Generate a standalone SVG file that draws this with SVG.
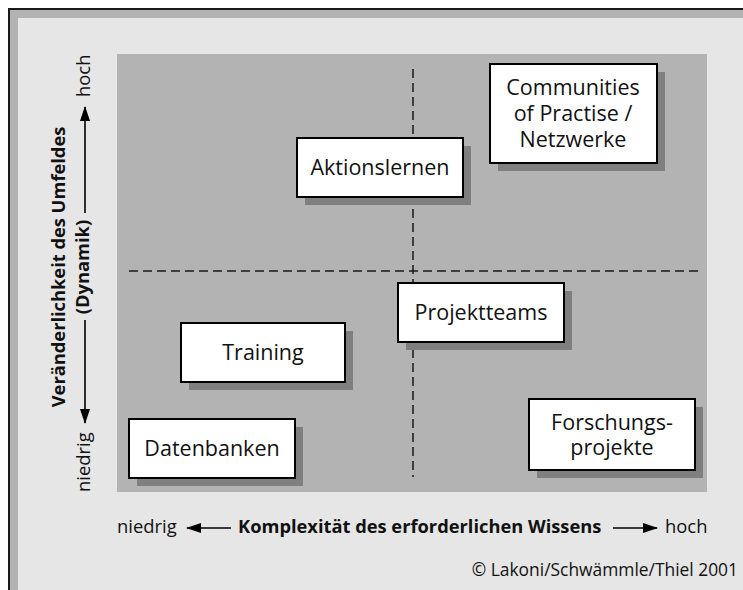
<svg xmlns="http://www.w3.org/2000/svg" width="743" height="590" viewBox="0 0 743 590">
  <defs>
    <style>
      .box { fill: #ffffff; stroke: #000000; stroke-width: 2; }
      .shadow { fill: #7f7f7f; }
      .label { font-family: "Open Sans", "Noto Sans", "Liberation Sans", sans-serif; font-size: 21.5px; fill: #111111; text-anchor: middle; }
      .axis { font-family: "Open Sans", "Noto Sans", "Liberation Sans", sans-serif; font-size: 18.4px; fill: #111111; }
      .axis-bold { font-family: "Open Sans", "Noto Sans", "Liberation Sans", sans-serif; font-size: 18.3px; font-weight: bold; fill: #111111; }
      .arrow { stroke: #000000; stroke-width: 1.6; fill: none; marker-end: url(#head); }
      .divider { stroke: #1a1a1a; stroke-width: 1.5; stroke-dasharray: 9 5; fill: none; }
      .copy { font-family: "Open Sans", "Noto Sans", "Liberation Sans", sans-serif; font-size: 17.4px; fill: #111111; text-anchor: end; }
    </style>
    <marker id="head" markerUnits="userSpaceOnUse" viewBox="0 0 15 10" refX="14" refY="5" markerWidth="15" markerHeight="10" orient="auto">
      <path d="M0,0 L15,5 L0,10 Z" fill="#000000"/>
    </marker>
  </defs>

  <!-- page and frame -->
  <rect x="0" y="0" width="743" height="590" fill="#ffffff"/>
  <rect x="9" y="9" width="760" height="600" fill="#b3b3b3" stroke="#1a1a1a" stroke-width="2"/>
  <rect x="18" y="18" width="760" height="600" fill="#e6e6e6"/>

  <!-- matrix area -->
  <rect id="matrix" x="117" y="54" width="590" height="438" fill="#b3b3b3"/>

  <!-- quadrant dividers and axis arrows -->
  <g id="connectors">
    <line class="divider" x1="129" y1="271" x2="698" y2="271"/>
    <line class="divider" x1="413" y1="69" x2="413" y2="477"/>
    <line class="arrow" x1="85" y1="213" x2="85" y2="107"/>
    <line class="arrow" x1="85" y1="320" x2="85" y2="423"/>
    <line class="arrow" x1="231" y1="528" x2="187" y2="528"/>
    <line class="arrow" x1="613" y1="528" x2="657" y2="528"/>
  </g>

  <!-- vertical axis labels -->
  <g id="y-axis">
    <text class="axis-bold" transform="translate(65,267) rotate(-90)" text-anchor="middle">Veränderlichkeit des Umfeldes</text>
    <text class="axis-bold" transform="translate(89,267) rotate(-90)" text-anchor="middle">(Dynamik)</text>
    <text class="axis" transform="translate(90,97) rotate(-90)">hoch</text>
    <text class="axis" transform="translate(90,492) rotate(-90)">niedrig</text>
  </g>

  <!-- horizontal axis labels -->
  <g id="x-axis">
    <text class="axis" x="117" y="533">niedrig</text>
    <text class="axis-bold" x="238" y="533">Komplexität des erforderlichen Wissens</text>
    <text class="axis" x="665" y="533">hoch</text>
  </g>

  <g id="aktionslernen">
    <rect class="shadow" x="305" y="146" width="166" height="59"/>
    <rect class="box" x="297" y="138" width="166" height="59"/>
    <text class="label" x="380" y="175">Aktionslernen</text>
  </g>

  <g id="communities">
    <rect class="shadow" x="498" y="72" width="167" height="99"/>
    <rect class="box" x="490" y="64" width="167" height="99"/>
    <text class="label" x="573" y="95">Communities</text>
    <text class="label" x="573" y="121">of Practise /</text>
    <text class="label" x="573" y="147">Netzwerke</text>
  </g>

  <g id="training">
    <rect class="shadow" x="189" y="331" width="164" height="59"/>
    <rect class="box" x="181" y="323" width="164" height="59"/>
    <text class="label" x="263" y="360">Training</text>
  </g>

  <g id="projektteams">
    <rect class="shadow" x="406" y="291" width="166" height="59"/>
    <rect class="box" x="398" y="283" width="166" height="59"/>
    <text class="label" x="481" y="320">Projektteams</text>
  </g>

  <g id="datenbanken">
    <rect class="shadow" x="137" y="427" width="166" height="59"/>
    <rect class="box" x="129" y="419" width="166" height="59"/>
    <text class="label" x="212" y="456">Datenbanken</text>
  </g>

  <g id="forschungsprojekte">
    <rect class="shadow" x="537" y="407" width="166" height="71"/>
    <rect class="box" x="529" y="399" width="166" height="71"/>
    <text class="label" x="612" y="430">Forschungs-</text>
    <text class="label" x="612" y="455">projekte</text>
  </g>

  <text class="copy" x="738" y="576">© Lakoni/Schwämmle/Thiel 2001</text>
</svg>
